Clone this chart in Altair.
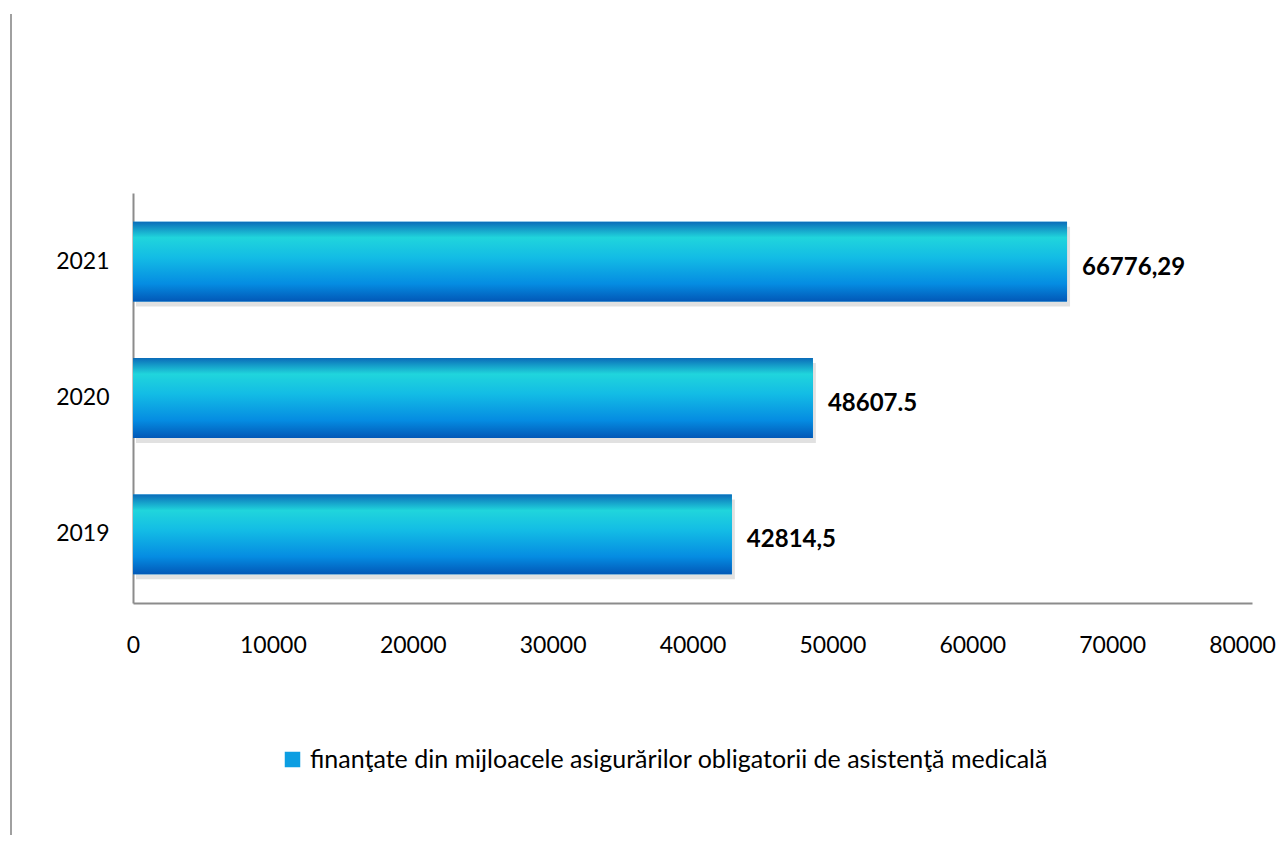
import altair as alt
import pandas as pd

years = ["2019", "2020", "2021"]
values = [42814.5, 48607.5, 66776.29]
labels = ["42814,5", "48607.5", "66776,29"]
series_name = "finanţate din mijloacele asigurărilor obligatorii de asistenţă medicală"
x_ticks = [0, 10000, 20000, 30000, 40000, 50000, 60000, 70000, 80000]

df = pd.DataFrame({"year": years, "value": values, "label": labels,
                   "series": [series_name] * len(years)})

FONT = "Lato"
order = ["2021", "2020", "2019"]

gradient = alt.Gradient(
    gradient="linear", x1=0, y1=0, x2=0, y2=1,
    stops=[
        alt.GradientStop(offset=0.0, color="#0b6cb9"),
        alt.GradientStop(offset=0.2, color="#20d5dc"),
        alt.GradientStop(offset=0.45, color="#13bce5"),
        alt.GradientStop(offset=0.78, color="#058ce2"),
        alt.GradientStop(offset=1.0, color="#0258b7"),
    ],
)

x_enc = alt.X("value:Q", scale=alt.Scale(domain=[0, 80000], nice=False),
              axis=alt.Axis(values=x_ticks, title=None, grid=False, ticks=False,
                            domainColor="#8c8c8c", domainWidth=2,
                            labelFont=FONT, labelFontSize=23, labelColor="#000",
                            labelPadding=31, labelFlush=False, format="d",
                            labelOffset={"condition": {"test": "datum.value === 80000",
                                                       "value": -10},
                                         "value": 0}))
y_enc = alt.Y("year:N", sort=order,
              scale=alt.Scale(paddingInner=0.415, paddingOuter=0.21),
              axis=alt.Axis(title=None, ticks=False, grid=False,
                            domainColor="#8c8c8c", domainWidth=2,
                            labelFont=FONT, labelFontSize=23, labelColor="#000",
                            labelPadding=24))

base = alt.Chart(df)

shadow = base.mark_bar(color="#9a9a9a", opacity=0.3, yOffset=5, xOffset=3).encode(
    x=x_enc, y=y_enc)

legend_bars = base.mark_bar().encode(
    x=x_enc, y=y_enc,
    color=alt.Color("series:N",
                    scale=alt.Scale(domain=[series_name], range=["#0c9ee2"]),
                    legend=alt.Legend(title=None, orient="none", legendX=147, legendY=554,
                                      symbolType="square", symbolSize=240,
                                      symbolStrokeWidth=0,
                                      labelFont=FONT, labelFontSize=25,
                                      labelColor="#000", labelLimit=1000,
                                      labelOffset=5)))

bars = base.mark_bar(fill=gradient).encode(x=x_enc, y=y_enc)

text = base.mark_text(align="left", baseline="middle", dx=15, dy=6, font=FONT,
                      fontSize=24, fontWeight="bold", color="#000").encode(
    x=x_enc, y=y_enc, text="label:N")

frame_line = base.mark_rule(color="#a0a0a0", strokeWidth=2).encode(
    x=alt.value(-122), y=alt.value(-179), y2=alt.value(650))

chart = alt.layer(frame_line, shadow, legend_bars, bars, text).properties(
    width=1119, height=410,
    padding={"left": 125, "top": 185, "right": 26, "bottom": 232},
    autosize=alt.AutoSizeParams(type="none"),
    background="white",
).configure_view(strokeWidth=0, stroke="transparent")

chart.save("out.html", embed_options={"renderer": "svg", "actions": False})
